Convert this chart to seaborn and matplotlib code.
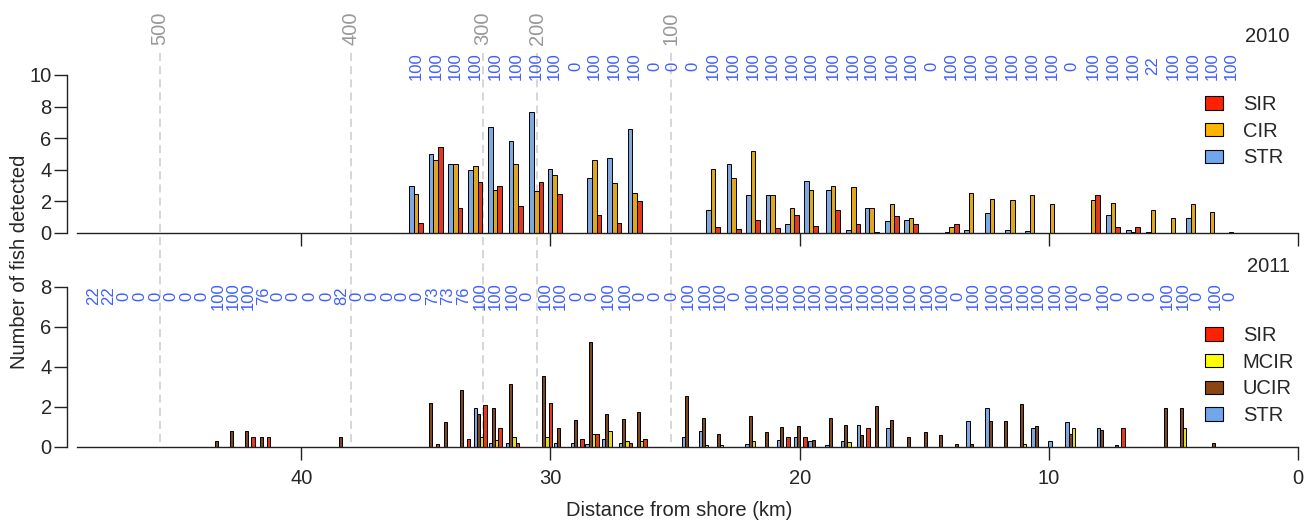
import numpy as np
import pandas as pd
import seaborn as sns
import matplotlib.pyplot as plt
from matplotlib.patches import Patch


# 2010 receiver line: distance from shore (km), label above station, fish detected
km_2010 = [35.39, 34.60, 33.82, 33.02, 32.22, 31.39, 30.57, 29.83, 28.97, 28.24,
           27.44, 26.62, 25.80, 25.08, 24.27, 23.47, 22.65, 21.87, 21.08, 20.30,
           19.54, 18.66, 17.85, 17.11, 16.29, 15.53, 14.68, 13.90, 13.12, 12.28,
           11.47, 10.67, 9.87, 9.07, 8.22, 7.42, 6.62, 5.82, 5.02, 4.21, 3.45, 2.69]
pct_2010 = ["100", "100", "100", "100", "100", "100", "100", "100", "0", "100",
            "100", "100", "0", "0", "0", "100", "100", "100", "100", "100",
            "100", "100", "100", "100", "100", "100", "0", "100", "100", "100",
            "100", "100", "100", "0", "100", "100", "100", "22", "100", "100", "100", "100"]
str_2010 = [3.00, 4.98, 4.39, 3.97, 6.69, 5.84, 7.68, 4.05, 0, 3.50,
            4.75, 6.60, 0, 0, 0, 1.43, 4.39, 2.38, 2.38, 0.55,
            3.31, 2.72, 0.21, 1.56, 0.74, 0.80, 0, 0.04, 0.21, 1.27,
            0.21, 0.13, 0, 0, 0, 1.12, 0.21, 0.04, 0, 0.95, 0, 0]
cir_2010 = [2.49, 4.64, 4.37, 4.22, 2.72, 4.39, 2.66, 3.67, 0, 4.64,
            3.16, 2.53, 0, 0, 0, 4.05, 3.46, 5.19, 2.38, 1.56,
            2.72, 2.95, 2.89, 1.56, 1.81, 0.95, 0, 0.38, 2.55, 2.17,
            2.09, 2.41, 1.81, 0, 2.09, 1.90, 0.04, 1.46, 0.97, 1.81, 1.31, 0.08]
sir_2010 = [0.65, 5.46, 1.58, 3.21, 2.95, 1.71, 3.21, 2.49, 0, 1.16,
            0.65, 2.05, 0, 0, 0, 0.38, 0.27, 0.80, 0.34, 1.16,
            0.46, 1.43, 0.57, 0.04, 1.08, 0.57, 0, 0.55, 0, 0,
            0, 0, 0, 0, 2.41, 0.38, 0.38, 0, 0, 0, 0, 0]

# 2011 receiver line: station labels
km_2011_lab = [48.35, 47.74, 47.10, 46.46, 45.82, 45.22, 44.58, 43.98, 43.33, 42.73,
               42.13, 41.52, 40.92, 40.32, 39.64, 38.96, 38.36, 37.75, 37.15, 36.51,
               35.95, 35.35, 34.74, 34.14, 33.50, 32.82, 32.22, 31.53, 30.93, 30.21,
               29.61, 28.93, 28.33, 27.68, 27.00, 26.40, 25.80, 25.12, 24.47, 23.79,
               23.19, 22.59, 21.91, 21.26, 20.66, 19.98, 19.38, 18.70, 18.09, 17.45,
               16.85, 16.25, 15.57, 14.88, 14.28, 13.64, 13.04, 12.28, 11.68, 11.03,
               10.43, 9.75, 9.07, 8.47, 7.82, 7.22, 6.54, 5.94, 5.26, 4.61,
               4.05, 3.33, 2.73]
pct_2011 = ["22", "22", "0", "0", "0", "0", "0", "0", "100", "100",
            "100", "76", "0", "0", "0", "0", "82", "0", "0", "0",
            "0", "0", "73", "73", "76", "100", "100", "100", "0", "100",
            "100", "0", "0", "100", "100", "0", "0", "0", "100", "100",
            "100", "0", "100", "100", "100", "100", "100", "100", "100", "100",
            "100", "100", "100", "100", "100", "0", "100", "100", "100", "100",
            "100", "100", "100", "0", "100", "0", "0", "0", "100", "100",
            "0", "100", "0"]

# 2011 stations with detections
km_2011 = [43.33, 42.73, 42.13, 41.52, 38.36, 34.74, 34.14, 33.50, 32.82, 32.22,
           31.53, 30.21, 29.61, 28.93, 28.33, 27.68, 27.00, 26.40, 24.47, 23.79,
           23.19, 21.91, 21.26, 20.66, 19.98, 19.38, 18.70, 18.09, 17.45, 16.85,
           16.25, 15.57, 14.88, 14.28, 13.64, 13.04, 12.28, 11.68, 11.03, 10.43,
           9.75, 9.07, 7.82, 7.22, 5.26, 4.61, 3.33]
str_2011 = [0, 0, 0, 0, 0, 0, 0, 0, 1.97, 0.18,
            0.18, 0, 0.18, 0.18, 0.17, 0.38, 0.18, 0, 0.48, 0.82,
            0, 0.15, 0, 0.33, 0.52, 0.28, 0.12, 0.28, 1.12, 0,
            0.95, 0, 0, 0, 0, 1.28, 1.95, 0, 0, 0.95,
            0.28, 1.27, 0.95, 0, 0, 0, 0]
ucir_2011 = [0.32, 0.78, 0.78, 0.50, 0.50, 2.20, 1.23, 2.83, 1.63, 1.97,
             3.13, 3.53, 0.95, 1.33, 5.27, 1.67, 1.42, 1.77, 2.53, 1.45,
             0.65, 1.53, 0.73, 1.00, 1.05, 0.33, 1.45, 1.08, 0.58, 2.07,
             1.35, 0.48, 0.73, 0.58, 0.17, 0.17, 1.32, 1.32, 2.15, 1.07,
             0, 0.67, 0.87, 0.10, 1.95, 1.95, 0.20]
mcir_2011 = [0, 0, 0, 0, 0, 0, 0, 0, 0.48, 0.33,
             0.48, 0.48, 0, 0, 0.63, 0.80, 0.30, 0.30, 0, 0.12,
             0.12, 0.28, 0, 0, 0, 0, 0, 0.27, 0, 0,
             0, 0, 0, 0, 0, 0, 0, 0, 0.15, 0,
             0, 0.95, 0, 0, 0, 0.95, 0]
sir_2011 = [0, 0, 0.48, 0.50, 0, 0.17, 0, 0.38, 2.10, 0.93,
            0.20, 2.20, 0, 0.42, 0.67, 0, 0.18, 0.42, 0, 0,
            0, 0, 0, 0.48, 0.48, 0, 0, 0, 0.95, 0,
            0, 0, 0, 0, 0, 0, 0, 0, 0, 0,
            0, 0, 0, 0.95, 0, 0, 0]

# depth contours (m) crossing the line
depth_km = [45.66, 38.00, 32.71, 30.52, 25.16]
depth_lab = ["500", "400", "300", "200", "100"]

palette = {"SIR": "#ff2200", "CIR": "#ffb400", "STR": "#72a6ec",
           "MCIR": "#ffff00", "UCIR": "#8b4513"}
order_2010 = ["SIR", "CIR", "STR"]
order_2011 = ["SIR", "MCIR", "UCIR", "STR"]
label_blue = "#3f5fff"


def to_long(km, cols):
    df = pd.DataFrame({"km": km, **cols})
    df = df.melt(id_vars="km", var_name="species", value_name="n")
    return df[df["n"] > 0]


df_2010 = to_long(km_2010, {"SIR": sir_2010, "CIR": cir_2010, "STR": str_2010})
df_2011 = to_long(km_2011, {"SIR": sir_2011, "MCIR": mcir_2011,
                            "UCIR": ucir_2011, "STR": str_2011})

sns.set_style("white")
plt.rcParams["font.family"] = ["Liberation Sans", "DejaVu Sans"]

W, H = 1316, 527
fig = plt.figure(figsize=(W / 100, H / 100), dpi=100)
left, right = 77 / W, 1298 / W

# background layer for depth lines spanning both panels
bg = fig.add_axes([left, 0, right - left, 1], zorder=0)
bg.set_xlim(49, 0)
bg.set_ylim(H, 0)
bg.axis("off")
bg.vlines(depth_km, 53, 447, colors="#cccccc", linestyles=(0, (5.3, 3.3)), linewidth=1.1)
for k, t in zip(depth_km, depth_lab):
    bg.text(k, 28, t, rotation=90, ha="center", va="center", color="#999999", fontsize=14.5)

ax1 = fig.add_axes([left, 1 - 233 / H, right - left, 158 / H], zorder=1)
ax2 = fig.add_axes([left, 1 - 447 / H, right - left, 160 / H], zorder=1)

w1 = 0.56 / np.diff(np.unique(df_2010["km"])).min()
w2 = 0.53 / np.diff(np.unique(df_2011["km"])).min()

sns.barplot(data=df_2010, x="km", y="n", hue="species", hue_order=order_2010,
            palette=palette, native_scale=True, orient="x", width=w1, errorbar=None,
            edgecolor="black", linewidth=0.7, legend=False, ax=ax1)
sns.barplot(data=df_2011, x="km", y="n", hue="species", hue_order=order_2011,
            palette=palette, native_scale=True, orient="x", width=w2, errorbar=None,
            edgecolor="black", linewidth=0.7, legend=False, ax=ax2)

for ax, top in ((ax1, 10), (ax2, 8)):
    ax.set_xlim(49, 0)
    ax.set_ylim(0, top)
    ax.set_facecolor("none")
    ax.set_xlabel("")
    ax.set_ylabel("")
    ax.spines[["top", "right"]].set_visible(False)
    ax.spines["left"].set_position(("outward", 7.2))
    for s in ("left", "bottom"):
        ax.spines[s].set_linewidth(1.0)
        ax.spines[s].set_color("#222222")
    ax.set_xticks([40, 30, 20, 10, 0])
    ax.set_xticklabels(["40", "30", "20", "10", "0"])
    ax.set_yticks(range(0, top + 1, 2))
    ax.tick_params(bottom=True, left=True, direction="out", length=9.5, width=1.0,
                   color="#222222", labelsize=14.5)
    ax.tick_params(axis="y", pad=1.5)
    ax.tick_params(axis="x", pad=6)

ax1.tick_params(axis="x", labelbottom=False)

for k, t in zip(km_2010, pct_2010):
    ax1.text(k, 10.57, t, rotation=90, ha="center", va="center", color=label_blue,
             fontsize=12, clip_on=False)
for k, t in zip(km_2011_lab, pct_2011):
    ax2.text(k, 7.55, t, rotation=90, ha="center", va="center", color=label_blue,
             fontsize=12, clip_on=False)

fig.text(1290 / W, 1 - 36 / H, "2010", ha="right", va="center", fontsize=14.5)
fig.text(1290 / W, 1 - 267 / H, "2011", ha="right", va="center", fontsize=14.5)

leg_kw = dict(loc="upper left", frameon=False, fontsize=14.5, handlelength=0.88,
              handleheight=0.65, handletextpad=1.0, labelspacing=0.38,
              borderpad=0, borderaxespad=0)
h1 = [Patch(facecolor=palette[s], edgecolor="black", linewidth=0.8, label=s) for s in order_2010]
h2 = [Patch(facecolor=palette[s], edgecolor="black", linewidth=0.8, label=s) for s in order_2011]
fig.legend(handles=h1, bbox_to_anchor=(1205 / W, 1 - 95 / H), **leg_kw)
fig.legend(handles=h2, bbox_to_anchor=(1205 / W, 1 - 326 / H), **leg_kw)

fig.text(20 / W, 1 - 262 / H, "Number of fish detected", rotation=90,
         ha="center", va="center", fontsize=14.5)
fig.text(679 / W, 1 - 510 / H, "Distance from shore (km)", ha="center", va="center",
         fontsize=14.5)

fig.savefig("out.png", dpi=100)
